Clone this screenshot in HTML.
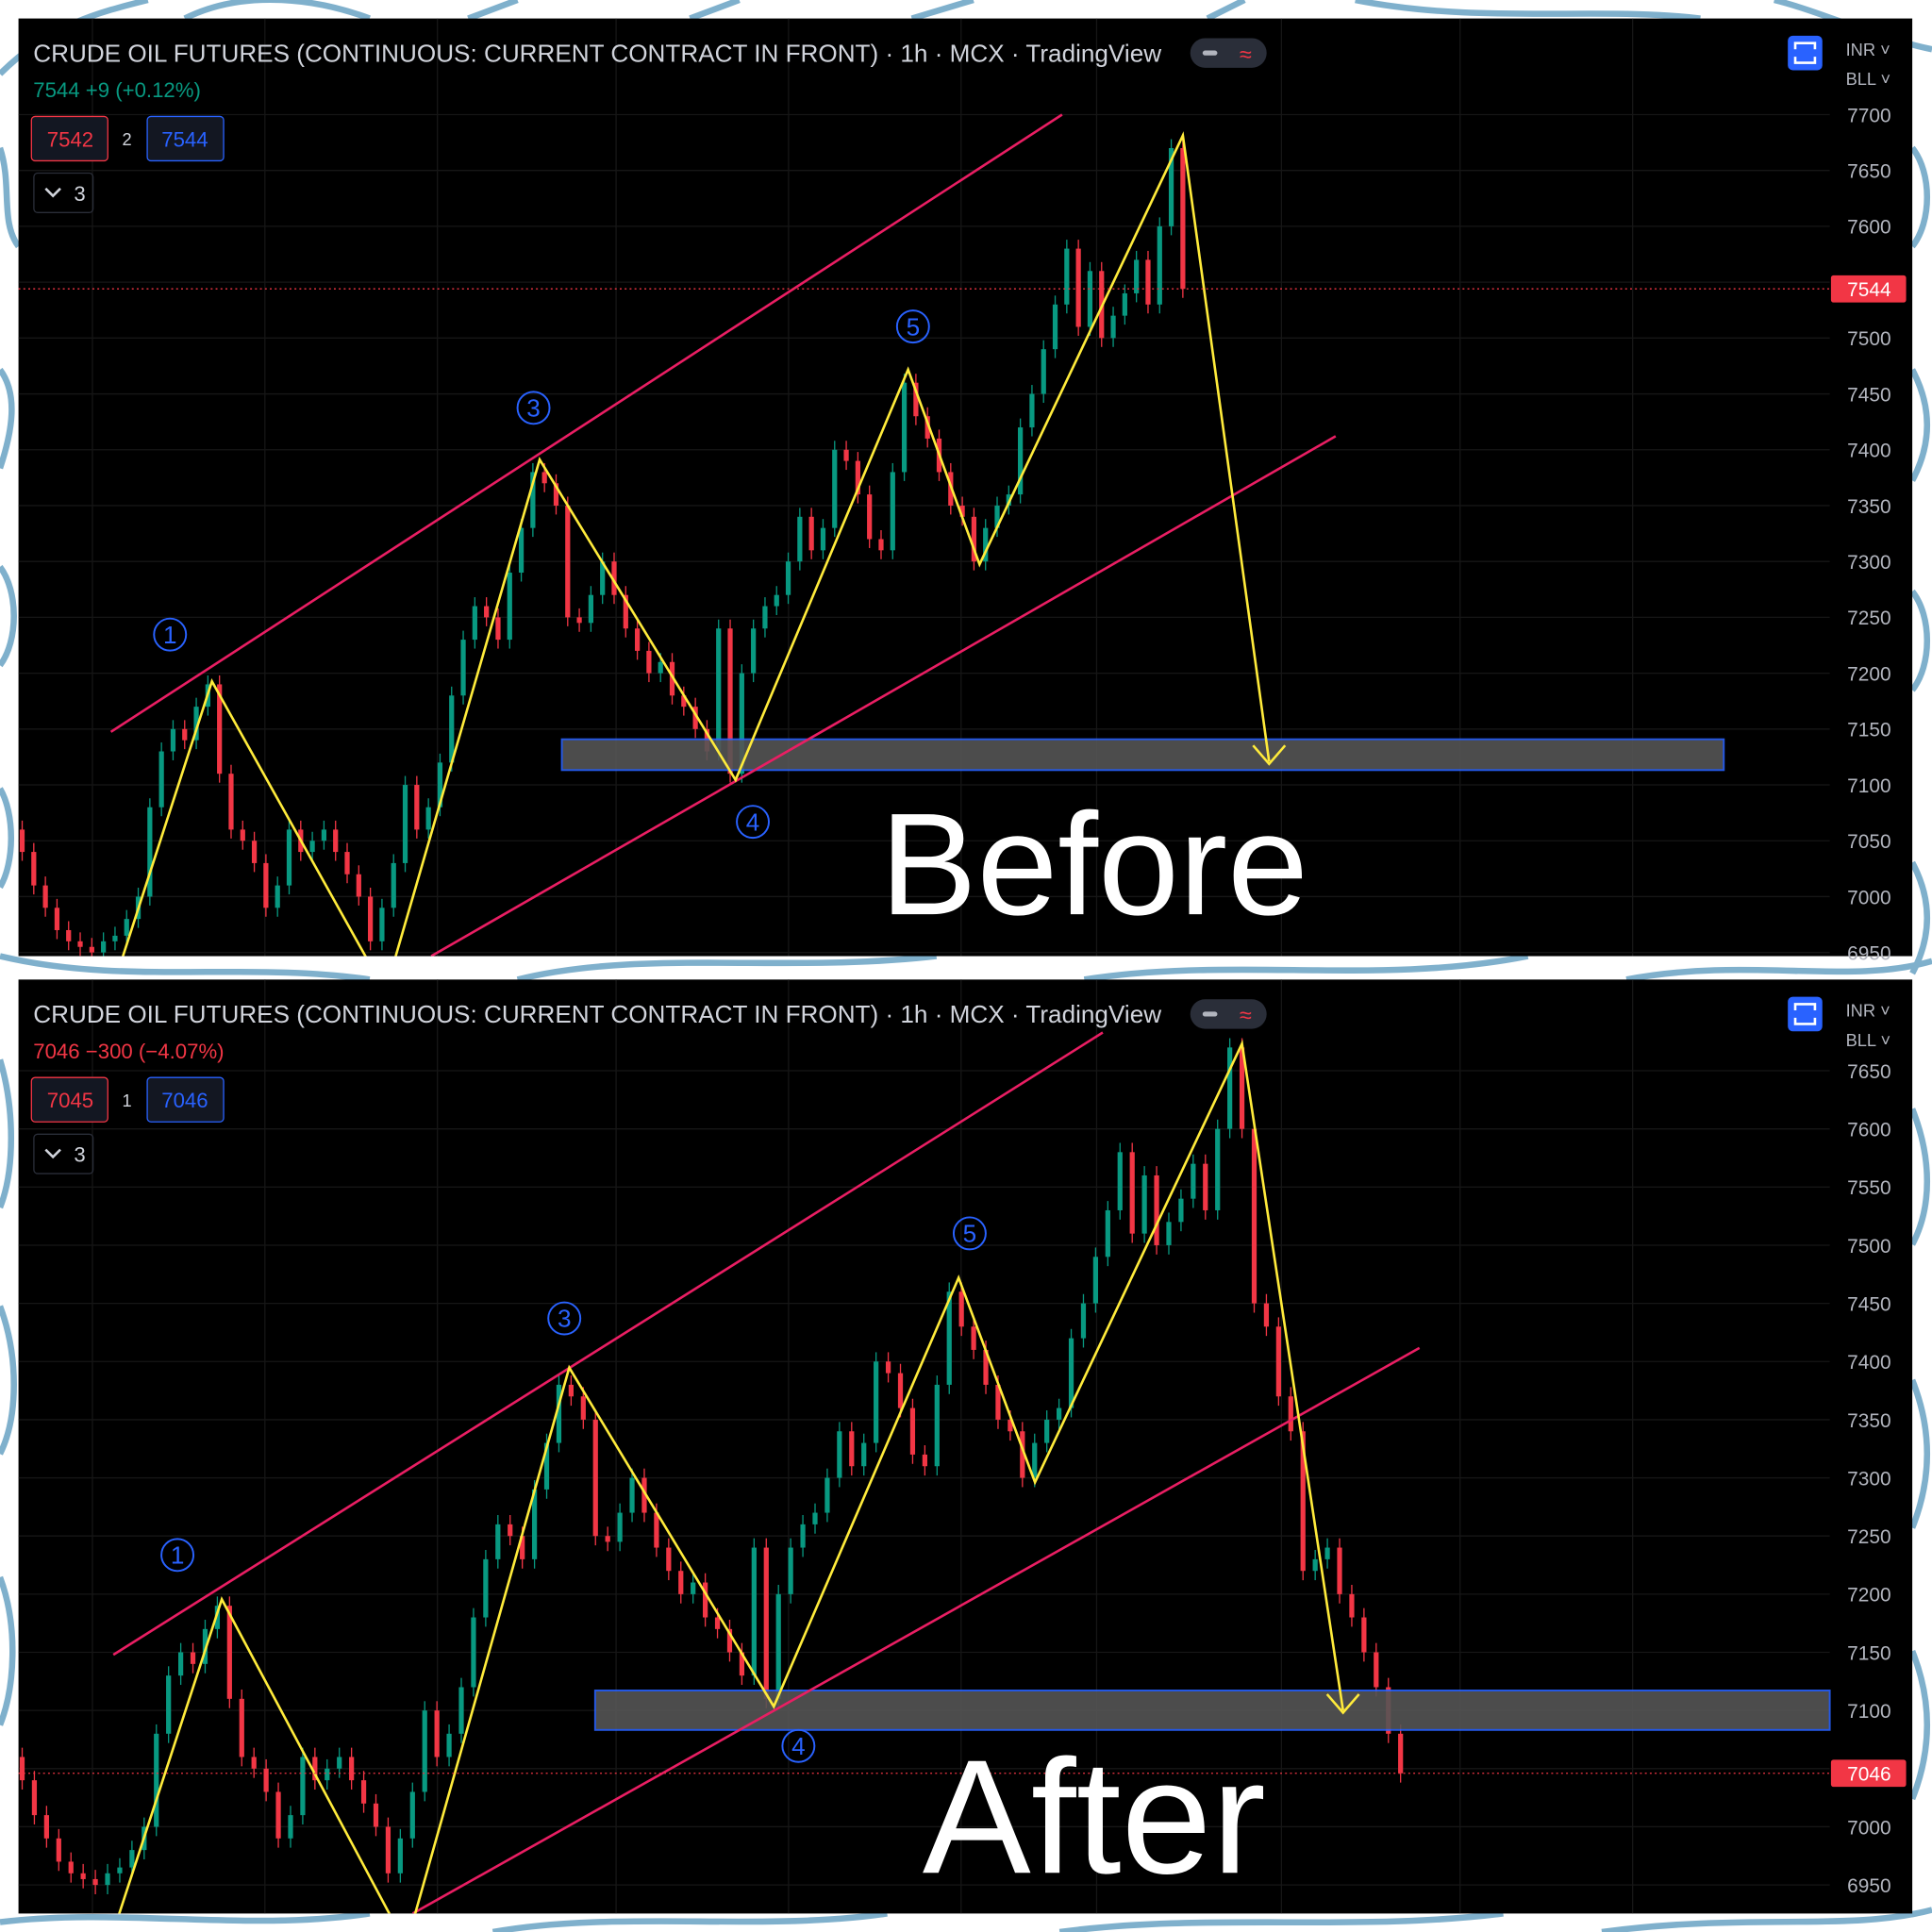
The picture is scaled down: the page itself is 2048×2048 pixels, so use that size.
<!DOCTYPE html>
<html><head><meta charset="utf-8"><style>
html,body{margin:0;padding:0;background:#fff;}
svg{display:block;}
text{font-family:"Liberation Sans",sans-serif;}
</style></head><body>
<svg id="root" width="2048" height="2048" viewBox="0 0 1568 1568" xmlns="http://www.w3.org/2000/svg">
<g fill="none" stroke="#7fb0cc" stroke-width="5">
<path d="M0 60 C40 20 80 10 120 0 M150 15 C200 -10 260 0 300 15 M380 15 L420 0 M560 15 L600 0 M740 15 L790 0 M980 15 L1010 0 M1100 0 C1200 20 1300 5 1380 15 M1440 0 C1480 10 1520 30 1568 40"/>
<path d="M0 120 C10 150 0 180 15 200 M0 300 C15 320 10 350 0 380 M0 460 C15 480 15 520 0 540 M0 640 C12 660 12 700 0 720"/>
<path d="M1552 120 C1568 140 1568 180 1552 200 M1552 300 C1568 330 1568 360 1552 390 M1552 480 C1568 500 1568 540 1552 560 M1552 700 C1568 730 1568 760 1552 790"/>
<path d="M0 776 C100 800 200 780 300 795 M420 795 C520 770 640 790 760 776 M880 795 C1000 776 1120 800 1240 776 M1320 795 C1420 776 1500 800 1568 780"/>
<path d="M0 860 C12 900 12 950 0 980 M0 1060 C15 1100 15 1150 0 1180 M0 1280 C15 1320 12 1370 0 1400"/>
<path d="M1552 900 C1568 940 1568 980 1552 1010 M1552 1120 C1568 1160 1568 1200 1552 1240 M1552 1340 C1568 1380 1568 1420 1552 1460"/>
<path d="M0 1560 C100 1548 200 1568 300 1553 M400 1568 C500 1550 620 1568 720 1553 M860 1568 C980 1552 1100 1568 1220 1553 M1300 1568 C1420 1552 1500 1568 1568 1550"/>
</g>
<g id="top"></g>
<g id="bottom"></g>
</svg>
<script>
// ---- data ----
const closesTop = [7040,7010,6990,6970,6960,6955,6950,6960,6965,6980,7000,7080,7130,7150,7140,7170,7190,7110,7060,7050,7030,6990,7010,7060,7040,7050,7060,7040,7020,7000,6960,6990,7030,7100,7060,7080,7120,7180,7230,7260,7250,7230,7290,7330,7380,7370,7350,7250,7245,7270,7300,7270,7240,7220,7200,7210,7180,7170,7150,7130,7240,7110,7200,7240,7260,7270,7300,7340,7310,7330,7400,7390,7360,7320,7310,7380,7460,7430,7410,7380,7350,7340,7300,7330,7350,7360,7420,7450,7490,7530,7580,7510,7560,7500,7520,7540,7570,7530,7600,7670,7544];
const closesAfterExtra = [7600,7450,7430,7370,7340,7220,7230,7240,7200,7180,7150,7120,7080,7046];
const ticksTop = [7700,7650,7600,7550,7500,7450,7400,7350,7300,7250,7200,7150,7100,7050,7000,6950];
const ticksBottom = [7650,7600,7550,7500,7450,7400,7350,7300,7250,7200,7150,7100,7050,7000,6950];
const closesBottom = closesTop.slice(0,100).concat(closesAfterExtra);

const NS="http://www.w3.org/2000/svg";
function mk(parent,tag,attrs,txt){const e=document.createElementNS(NS,tag);for(const k in attrs)e.setAttribute(k,attrs[k]);if(txt!==undefined)e.textContent=txt;parent.appendChild(e);return e;}

function drawChart(g,cfg){
  const {top,bot,vMax,yMax,ySpan,x0,dx,closes,ticks,last,prevClose,stats,statsColor,bid,ask,qty,label,labelY,labelSize,zig,ch1,ch2,zone,circles,arrow}=cfg;
  const y=v=>yMax+(vMax-v)*ySpan;
  const x=i=>x0+dx*i;
  const panel=mk(g,'rect',{x:15,y:top,width:1537,height:bot-top,fill:'#000'});
  
  
  const clip=mk(g,'clipPath',{id:'c'+top});mk(clip,'rect',{x:15,y:top,width:1470,height:bot-top});
  const grid=mk(g,'g',{stroke:'#161616','stroke-width':1});
  
  
  [75,215,355,500,640,780,890,1040,1185,1325].forEach(gx=>mk(grid,'line',{x1:gx,x2:gx,y1:top,y2:bot}));
  ticks.forEach(t=>mk(grid,'line',{x1:15,x2:1485,y1:y(t),y2:y(t)}));
  const axis=mk(g,'g',{fill:'#b2b5be','font-size':16,'text-anchor':'middle'});
  
  
  ticks.forEach(t=>{const tl=mk(axis,'text',{x:1517,y:y(t)+6},String(t));
    
    });
  const cg=mk(g,'g',{'clip-path':'url(#c'+top+')'});
  
  
  let prev=prevClose;
  closes.forEach((c,i)=>{
    const o=prev;const col=c>=o?'#089981':'#f23645';
    const hi=Math.max(o,c)+8,lo=Math.min(o,c)-8;
    const w=mk(cg,'line',{x1:x(i),x2:x(i),y1:y(hi),y2:y(lo),stroke:col,'stroke-width':1});
    
    
    const b=mk(cg,'rect',{x:x(i)-2,y:y(Math.max(o,c)),width:4,height:Math.max(1,Math.abs(y(o)-y(c))),fill:col});
    
    
    prev=c;});
  const z=mk(g,'rect',{x:zone[0],y:zone[1],width:zone[2]-zone[0],height:zone[3]-zone[1],fill:'#555',stroke:'#2962ff','stroke-width':1.5,opacity:0.9});
  
  
  [ch1,ch2].forEach(l=>{const ln=mk(g,'line',{x1:l[0],y1:l[1],x2:l[2],y2:l[3],stroke:'#e91e63','stroke-width':2,'clip-path':'url(#c'+top+')'});
    
    });
  const zz=mk(g,'polyline',{points:zig.map(p=>p.join(',')).join(' '),fill:'none',stroke:'#ffeb3b','stroke-width':2,'clip-path':'url(#c'+top+')'});
  
  
  const ar=mk(g,'polyline',{points:`${arrow[0]-13},${arrow[1]-15} ${arrow[0]},${arrow[1]} ${arrow[0]+13},${arrow[1]-15}`,fill:'none',stroke:'#ffeb3b','stroke-width':2});
  
  
  circles.forEach(cc=>{const cgp=mk(g,'g',{});
    
    
    mk(cgp,'circle',{cx:cc[0],cy:cc[1],r:13,fill:'none',stroke:'#2962ff','stroke-width':1.5});
    mk(cgp,'text',{x:cc[0],y:cc[1]+7,fill:'#2962ff','font-size':20,'text-anchor':'middle'},cc[2]);});
  const ly=y(last);
  const pl=mk(g,'line',{x1:15,x2:1485,y1:ly,y2:ly,stroke:'#f23645','stroke-width':1,'stroke-dasharray':'1.5 2.5'});
  
  
  const pb=mk(g,'rect',{x:1486,y:ly-11,width:61,height:22,rx:2,fill:'#f23645'});
  
  
  mk(g,'text',{x:1517,y:ly+6,fill:'#fff','font-size':16,'text-anchor':'middle'},String(last));
  const o=top-15;
  const h=mk(g,'text',{x:27,y:o+50,fill:'#d1d4dc','font-size':20},'CRUDE OIL FUTURES (CONTINUOUS: CURRENT CONTRACT IN FRONT) · 1h · MCX · TradingView');
  
  
  const pill=mk(g,'rect',{x:966,y:o+31,width:62,height:24,rx:12,fill:'#2a2e39'});
  
  
  mk(g,'rect',{x:976,y:o+41,width:12,height:4,rx:2,fill:'#b2b5be'});
  mk(g,'text',{x:1011,y:o+50,fill:'#f23645','font-size':18,'text-anchor':'middle'},'≈');
  const st=mk(g,'text',{x:27,y:o+79,fill:statsColor,'font-size':17},stats);
  
  
  const sb=mk(g,'rect',{x:25.5,y:o+94.5,width:62,height:36,rx:3,fill:'#131722',stroke:'#f23645'});
  
  
  mk(g,'text',{x:57,y:o+119,fill:'#f23645','font-size':17,'text-anchor':'middle'},String(bid));
  mk(g,'text',{x:103,y:o+118,fill:'#d1d4dc','font-size':14,'text-anchor':'middle'},String(qty));
  const bb=mk(g,'rect',{x:119.5,y:o+94.5,width:62,height:36,rx:3,fill:'#131722',stroke:'#2962ff'});
  
  
  mk(g,'text',{x:150,y:o+119,fill:'#2962ff','font-size':17,'text-anchor':'middle'},String(ask));
  const dd=mk(g,'rect',{x:27.5,y:o+140.5,width:48,height:32,rx:3,fill:'none',stroke:'#2a2e39'});
  
  
  mk(g,'polyline',{points:`37,${o+153} 43,${o+159} 49,${o+153}`,fill:'none',stroke:'#d1d4dc','stroke-width':2});
  mk(g,'text',{x:60,y:o+163,fill:'#d1d4dc','font-size':17},'3');
  const fs=mk(g,'rect',{x:1451,y:o+29,width:28,height:28,rx:4,fill:'#2962ff'});
  
  
  mk(g,'path',{d:`M1457 ${o+40} v-5 h16 v5 M1457 ${o+46} v5 h16 v-5`,fill:'none',stroke:'#fff','stroke-width':2});
  const cur=mk(g,'text',{x:1498,y:o+45,fill:'#b2b5be','font-size':14},'INR ˅');
  
  
  const un=mk(g,'text',{x:1498,y:o+69,fill:'#b2b5be','font-size':14},'BLL ˅');
  
  
  const lb=mk(g,'text',{x:888,y:labelY,fill:'#fff','font-size':labelSize,'text-anchor':'middle'},label);
  
  
}

drawChart(document.getElementById('top'),{top:15,bot:776,vMax:7700,yMax:93,ySpan:0.9067,x0:18,dx:9.42,
  closes:closesTop,ticks:ticksTop,last:7544,prevClose:7060,stats:'7544  +9 (+0.12%)',statsColor:'#089981',
  bid:7542,ask:7544,qty:2,label:'Before',labelY:742,labelSize:118,
  zig:[[92,800],[172,553],[310,800],[320,780],[438,373],[597,633],[737,300],[795,458],[960,110],[1030,618]],
  ch1:[90,594,862,93],ch2:[350,776,1084,354],zone:[456,600,1399,625],
  circles:[[138,515,'1'],[433,331,'3'],[611,667,'4'],[741,265,'5']],arrow:[1030,620]});

drawChart(document.getElementById('bottom'),{top:795,bot:1553,vMax:7650,yMax:869,ySpan:0.944,x0:18,dx:9.9,
  closes:closesBottom,ticks:ticksBottom,last:7046,prevClose:7060,stats:'7046  −300 (−4.07%)',statsColor:'#f23645',
  bid:7045,ask:7046,qty:1,label:'After',labelY:1520,labelSize:132,
  zig:[[88,1580],[180,1298],[325,1570],[335,1560],[462,1110],[628,1385],[778,1037],[840,1203],[1008,847],[1090,1388]],
  ch1:[92,1343,895,838],ch2:[335,1553,1152,1094],zone:[483,1372,1485,1404],
  circles:[[144,1262,'1'],[458,1070,'3'],[648,1417,'4'],[787,1001,'5']],arrow:[1090,1390]});
</script>
</body></html>
